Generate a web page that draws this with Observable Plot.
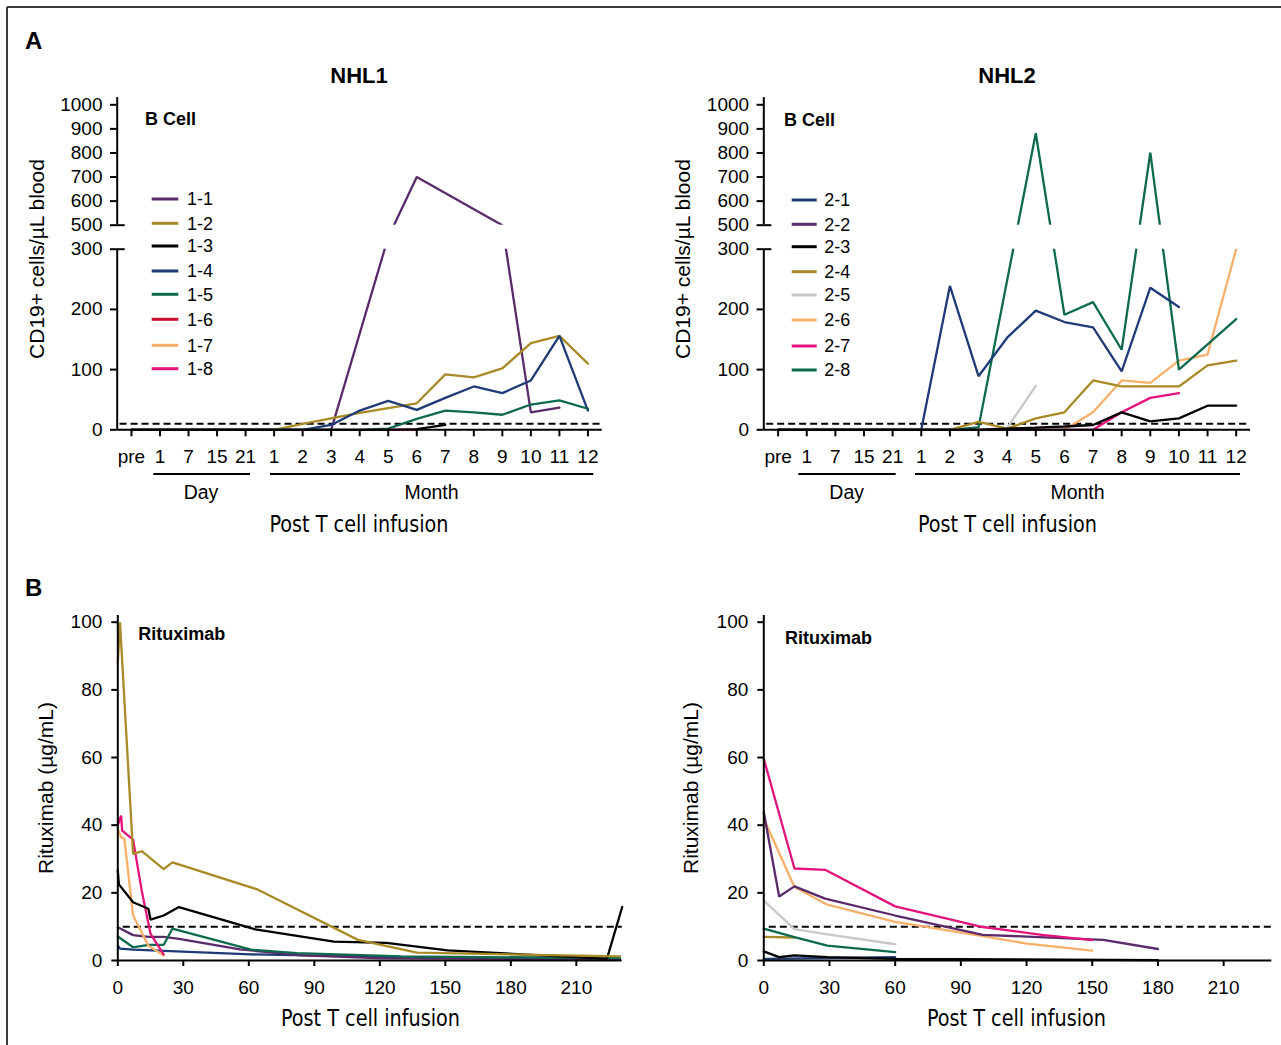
<!DOCTYPE html>
<html><head><meta charset="utf-8">
<script src="https://cdn.jsdelivr.net/npm/d3@7"></script>
<script src="https://cdn.jsdelivr.net/npm/@observablehq/plot@0.6"></script>
<style>
html,body{margin:0;padding:0;background:#fff;}
#fig{position:relative;width:1281px;height:1045px;overflow:hidden;background:#fff;}
#fig > div.p{position:absolute;}
#ov{position:absolute;left:0;top:0;pointer-events:none;}
</style></head><body><div id="fig"></div>
<script>
// ---------- DATA ----------
// time points for panel A (index 0..16)
const timeLabels = ["pre","1","7","15","21","1","2","3","4","5","6","7","8","9","10","11","12"];
const yTicksA = [0,100,200,300,500,600,700,800,900,1000];
const xTicksB = [0,30,60,90,120,150,180,210];
const yTicksB = [0,20,40,60,80,100];

// NHL1 B cells (CD19+ cells/µL) per time point, null = not measured
const b1_1 = [0,0,0,0,0,0,0,0,null,400,700,null,null,500,29,37,null];
const b1_2 = [0,0,0,0,0,0,10,19,28,36,44,92,87,102,144,156,110];
const b1_3 = [0,0,0,0,0,0,0,0,0,0,1,8,null,null,null,null,null];
const b1_4 = [0,0,0,0,0,0,0,8,32,48,33,53,72,61,82,156,32];
const b1_5 = [0,0,0,0,0,0,0,0,0,2,18,32,29,25,42,49,35];
const b1_6 = [0,0,0,0,0,0,null,null,null,null,null,null,null,null,null,null,null];
const b1_7 = [0,0,0,0,0,0,null,null,null,null,null,null,null,null,null,null,null];
const b1_8 = [null,null,null,null,null,null,null,null,null,0,0,null,null,null,null,null,null];

// NHL2 B cells
const b2_1 = [0,0,0,0,0,0,239,89,153,198,179,170,97,236,204,null,null];
const b2_2 = [0,0,0,0,0,0,0,0,0,0,0,0,0,0,0,0,null];
const b2_3 = [0,0,0,0,0,0,0,0,2,3.5,5.5,8,29,14,19,40,40];
const b2_4 = [0,0,0,0,0,0,0,13,2,19,29,82,72,72,72,107,115];
const b2_5 = [0,0,0,0,0,0,0,0,3,73,null,null,null,null,null,null,null];
const b2_6 = [0,0,0,0,0,0,0,0,0,0,0,29,82,78,115,125,300];
const b2_7 = [0,0,0,0,0,0,0,0,0,0,0,0,29,53,61,null,null];
const b2_8 = [0,0,0,0,0,0,0,4,null,882,191,212,133,801,100,null,184];

// Rituximab (µg/mL): [day, value]
const r1_1 = [[0,9.8],[7,7.5],[14,7.0],[21,7.0],[28,6.4],[56,3.3],[84,1.5],[119,0.7],[230,0.3]];
const r1_2 = [[0,88],[1,100],[7,31.5],[11,32.3],[21,27],[25,29],[64,21],[110,6.1],[137,2.3],[230,1.2]];
const r1_3 = [[0,26.6],[0.5,22.5],[7,17.2],[14,15.3],[15,12.1],[21,13.3],[28,15.8],[63,9.2],[99,5.6],[123,5.2],[151,3],[224,0.5],[231,15.8]];
const r1_4 = [[0,4.4],[1,3.5],[7,3.2],[61,1.8],[130,1.0],[230,0.4]];
const r1_5 = [[0,7.1],[7,3.9],[14,4.6],[21,4.6],[25,9.4],[61,3.2],[82,2.2],[130,1.2],[230,0.7]];
const r1_7 = [[0,39],[1.5,36.4],[3,36],[7,13.3],[14,4.4],[21,1.5]];
const r1_8 = [[0,40],[1.5,42.8],[2,38.4],[7,35.7],[11,20.5],[15,7.9],[21,1.8]];

const r2_1 = [[0,0.5],[60,1.0]];
const r2_2 = [[0,43.8],[7,18.9],[14,21.9],[28,18.3],[60,13.3],[100,7.6],[155,6.1],[180,3.4]];
const r2_3 = [[0,2.7],[7,1.0],[14,1.5],[29,1.0],[60,0.5],[180,0.1]];
const r2_4 = [[0,7.0],[14,6.8]];
const r2_5 = [[0,17.7],[14,9.3],[29,7.7],[60,4.8]];
const r2_6 = [[0,41.9],[14,21.7],[29,16.5],[60,11.4],[100,7.2],[120,5.0],[150,2.9]];
const r2_7 = [[0,59.6],[14,27.2],[28,26.8],[60,16],[100,9.9],[127,7.6],[150,6]];
const r2_8 = [[0,9.4],[14,6.9],[29,4.4],[60,2.5]];

const nhl1Names = ["1-1","1-2","1-3","1-4","1-5","1-6","1-7","1-8"];
const nhl2Names = ["2-1","2-2","2-3","2-4","2-5","2-6","2-7","2-8"];

// ---------- STYLE ----------
const C = {purple:"#5a2a6b", gold:"#a88a26", black:"#000000", navy:"#1e3b78", green:"#0d6a4e",
           crimson:"#c8102e", orange:"#f7b06a", magenta:"#e5137c", gray:"#c8c8c8"};
const nhl1Colors = [C.purple,C.gold,C.black,C.navy,C.green,C.crimson,C.orange,C.magenta];
const nhl2Colors = [C.navy,C.purple,C.black,C.gold,C.gray,C.orange,C.magenta,C.green];
const SANS = "'Liberation Sans', Arial, Helvetica, sans-serif";
const NARROW = "'Liberation Sans Narrow', 'DejaVu Sans Condensed', 'Arial Narrow', sans-serif";
const LW = 2.3;
const TICKFS = 19;

const fig = document.getElementById("fig");
function place(svg, left, top) {
  const d = document.createElement("div");
  d.className = "p"; d.style.left = left + "px"; d.style.top = top + "px";
  d.appendChild(svg); fig.appendChild(d);
}
const plotStyle = {fontFamily: SANS, fontSize: "18px", color: "#000", background: "transparent", overflow: "visible"};

// ---------- PANEL A ----------
function panelA(left, marginLeft, marginRight, series) {
  const lineMarks = series.map(s => {
    const rows = s.vals.map((v, i) => ({t: i, v})).filter(d => d.v != null);
    return Plot.line(rows, {x: "t", y: "v", stroke: s.color, strokeWidth: LW, strokeLinejoin: "miter"});
  });
  const svg = Plot.plot({
    width: 640, height: 380, marginLeft, marginRight, marginTop: 0, marginBottom: 380 - 339.3,
    style: plotStyle,
    x: {type: "linear", domain: [-0.5, 16.5]},
    y: {type: "linear", domain: [0, 300, 500, 1000], range: [339.3, 158.7, 134.7, 14.3]},
    marks: [
      Plot.ruleY([10], {x1: -0.4, x2: 16.5, stroke: "#000", strokeWidth: 2, strokeDasharray: "7,4"}),
      ...lineMarks,
      Plot.rect([0], {x1: -0.44, x2: 16.7, y1: 300, y2: 500, fill: "white"}),
      Plot.ruleX([-0.5], {y1: 0, y2: 300, stroke: "#000", strokeWidth: 2}),
      Plot.ruleX([-0.5], {y1: 500, y2: 1030, stroke: "#000", strokeWidth: 2}),
      Plot.ruleY([300, 500], {x1: -0.5, x2: -0.22, stroke: "#000", strokeWidth: 2}),
      Plot.ruleY([0], {x1: -0.5, x2: 16.5, stroke: "#000", strokeWidth: 2}),
      Plot.axisX({ticks: d3.range(17), tickFormat: i => timeLabels[i], tickSize: 7, tickPadding: 13,
                  label: null, fontSize: TICKFS, strokeWidth: 2}),
      Plot.axisY({ticks: yTicksA, tickFormat: d => String(d), tickSize: 6.7, tickPadding: 8,
                  label: null, fontSize: TICKFS, strokeWidth: 2})
    ]
  });
  place(svg, left, 90);
}

panelA(0, 116.7, 38.3, [
  {vals: b1_6, color: C.crimson}, {vals: b1_7, color: C.orange},
  {vals: b1_1, color: C.purple}, {vals: b1_2, color: C.gold},
  {vals: b1_4, color: C.navy}, {vals: b1_5, color: C.green},
  {vals: b1_3, color: C.black}, {vals: b1_8, color: C.magenta}
]);
panelA(640, 123.3, 30, [
  {vals: b2_5, color: C.gray}, {vals: b2_6, color: C.orange},
  {vals: b2_7, color: C.magenta}, {vals: b2_8, color: C.green},
  {vals: b2_1, color: C.navy}, {vals: b2_4, color: C.gold},
  {vals: b2_2, color: C.purple}, {vals: b2_3, color: C.black}
]);

// ---------- PANEL B ----------
function panelB(left, marginLeft, marginRight, xmax, series) {
  const svg = Plot.plot({
    width: 640, height: 445, marginLeft, marginRight, marginTop: 21.7, marginBottom: 85,
    style: plotStyle,
    x: {type: "linear", domain: [0, xmax]},
    y: {type: "linear", domain: [0, 100]},
    marks: [
      Plot.ruleY([10], {x1: 2.5, x2: xmax, stroke: "#000", strokeWidth: 2, strokeDasharray: "7,4"}),
      ...series.map(s => Plot.line(s.pts, {x: d => d[0], y: d => d[1], stroke: s.color, strokeWidth: LW, strokeLinejoin: "miter"})),
      Plot.ruleX([0], {y1: 0, y2: 102, stroke: "#000", strokeWidth: 2}),
      Plot.ruleY([0], {x1: 0, x2: xmax, stroke: "#000", strokeWidth: 2}),
      Plot.axisX({ticks: xTicksB, tickSize: 6, tickPadding: 14, label: null, fontSize: TICKFS, strokeWidth: 2}),
      Plot.axisY({ticks: yTicksB, tickSize: 6, tickPadding: 9.5, label: null, fontSize: TICKFS, strokeWidth: 2})
    ]
  });
  place(svg, left, 600);
}

panelB(0, 117.3, 18.3, 231, [
  {pts: r1_4, color: C.navy}, {pts: r1_1, color: C.purple}, {pts: r1_5, color: C.green},
  {pts: r1_7, color: C.orange}, {pts: r1_8, color: C.magenta}, {pts: r1_3, color: C.black},
  {pts: r1_2, color: C.gold}
]);
panelB(640, 123.3, 8.7, 232, [
  {pts: r2_1, color: C.navy}, {pts: r2_3, color: C.black}, {pts: r2_4, color: C.gold},
  {pts: r2_8, color: C.green}, {pts: r2_5, color: C.gray}, {pts: r2_6, color: C.orange},
  {pts: r2_2, color: C.purple}, {pts: r2_7, color: C.magenta}
]);

// ---------- ANNOTATIONS ----------
const ov = d3.select("#fig").append("svg").attr("id", "ov").attr("width", 1281).attr("height", 1045);
function txt(x, y, s, o = {}) {
  const t = ov.append("text").attr("x", x).attr("y", y).text(s)
    .attr("font-family", o.family || SANS).attr("font-size", o.size || 18)
    .attr("font-weight", o.weight || "normal").attr("text-anchor", o.anchor || "start").attr("fill", "#000");
  if (o.rotate) t.attr("transform", `rotate(${o.rotate},${x},${y})`);
  if (o.len) t.attr("textLength", o.len).attr("lengthAdjust", "spacingAndGlyphs");
  return t;
}
function ln(x1, y1, x2, y2, color = "#000", w = 2) {
  ov.append("line").attr("x1", x1).attr("y1", y1).attr("x2", x2).attr("y2", y2)
    .attr("stroke", color).attr("stroke-width", w);
}
// frame border
ln(7, 7, 1281, 7, "#3a3a3a", 2);
ln(7, 7, 7, 1045, "#3a3a3a", 2);

txt(25, 48.5, "A", {size: 24, weight: "bold"});
txt(25, 596, "B", {size: 24, weight: "bold"});
txt(359, 83.3, "NHL1", {size: 22, weight: "bold", anchor: "middle"});
txt(1007, 83.3, "NHL2", {size: 22, weight: "bold", anchor: "middle"});
txt(145, 125, "B Cell", {size: 18, weight: "bold"});
txt(784, 126, "B Cell", {size: 18, weight: "bold"});
txt(138.3, 640, "Rituximab", {size: 18, weight: "bold"});
txt(785, 644, "Rituximab", {size: 18, weight: "bold"});

// legends
const leg1Y = [199, 223.3, 246, 271, 294.3, 319.3, 345.3, 368.7];
nhl1Names.forEach((n, i) => { ln(151.7, leg1Y[i], 178.3, leg1Y[i], nhl1Colors[i], 3); txt(187, leg1Y[i] + 6.4, n, {size: 18}); });
const leg2Y = [200, 224.3, 246.7, 271.7, 295, 320, 346, 370];
nhl2Names.forEach((n, i) => { ln(791.7, leg2Y[i], 816.7, leg2Y[i], nhl2Colors[i], 3); txt(824.3, leg2Y[i] + 6.4, n, {size: 18}); });

// Day / Month groupings
ln(153.3, 474, 250, 474); ln(270, 474, 593.3, 474);
txt(201, 499, "Day", {size: 19.5, anchor: "middle"});
txt(431.5, 499, "Month", {size: 19.5, anchor: "middle"});
ln(798.3, 474, 895.7, 474); ln(915, 474, 1240, 474);
txt(846.7, 499, "Day", {size: 19.5, anchor: "middle"});
txt(1077.5, 499, "Month", {size: 19.5, anchor: "middle"});

// axis titles
txt(359, 531.5, "Post T cell infusion", {size: 23, anchor: "middle", family: NARROW, len: 179});
txt(1007.5, 531.5, "Post T cell infusion", {size: 23, anchor: "middle", family: NARROW, len: 179});
txt(370.5, 1026, "Post T cell infusion", {size: 23, anchor: "middle", family: NARROW, len: 179});
txt(1016.5, 1026, "Post T cell infusion", {size: 23, anchor: "middle", family: NARROW, len: 179});
txt(44, 259, "CD19+ cells/µL blood", {size: 21, anchor: "middle", rotate: -90});
txt(690, 259, "CD19+ cells/µL blood", {size: 21, anchor: "middle", rotate: -90});
txt(53, 788, "Rituximab (µg/mL)", {size: 21, anchor: "middle", rotate: -90});
txt(698, 788, "Rituximab (µg/mL)", {size: 21, anchor: "middle", rotate: -90});
</script></body></html>
